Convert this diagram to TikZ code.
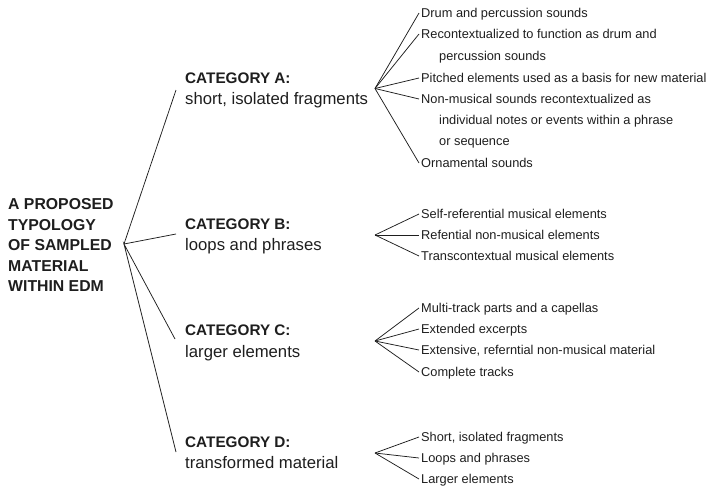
\documentclass[tikz,border=0pt]{standalone}
\usepackage{fontspec}
\setmainfont{Liberation Sans}
\definecolor{ink}{HTML}{1E1E1E}
\tikzset{
  conn/.style={draw=ink, line width=0.75pt},
  roottxt/.style={anchor=west, inner sep=0pt, align=left, text=ink, font=\fontsize{15.8}{20.5}\selectfont\bfseries},
  cathead/.style={anchor=west, inner sep=0pt, text=ink, text height=11pt, text depth=0pt, font=\fontsize{15.3}{18}\selectfont\bfseries},
  catdesc/.style={anchor=west, inner sep=0pt, text=ink, text height=12pt, text depth=0pt, font=\fontsize{16.7}{20}\selectfont},
  item/.style={anchor=west, inner xsep=2pt, inner ysep=0pt, text=ink, text height=9.2pt, text depth=0pt, font=\fontsize{12.8}{15}\selectfont},
  cont/.style={item, inner xsep=0pt},
}
\begin{document}
\begin{tikzpicture}[x=1pt, y=-1pt]
\useasboundingbox (0,0) rectangle (707,488);
% root
\node[roottxt] (root) at (8,245) {A PROPOSED\\TYPOLOGY\\OF SAMPLED\\MATERIAL\\WITHIN EDM};
\coordinate (rj) at (124,244);
% categories
\node[cathead] (ca) at (185,78) {CATEGORY A:};
\node[catdesc] (cad) at (185,98) {short, isolated fragments};
\node[cathead] (cb) at (185,224) {CATEGORY B:};
\node[catdesc] (cbd) at (185,244) {loops and phrases};
\node[cathead] (cc) at (185,330) {CATEGORY C:};
\node[catdesc] (ccd) at (185,351) {larger elements};
\node[cathead] (cd) at (185,442) {CATEGORY D:};
\node[catdesc] (cdd) at (185,462) {transformed material};
\coordinate (ea) at (176,90);
\coordinate (eb) at (176,234);
\coordinate (ec) at (175,339);
\coordinate (ed) at (176,452);
\draw[conn] (ea) -- (rj) -- (eb);
\draw[conn] (ec) -- (rj) -- (ed);
% sub junctions
\coordinate (ja) at (375,88.5);
\coordinate (jb) at (375,235);
\coordinate (jc) at (375,341);
\coordinate (jd) at (375,453);
% A items
\node[item] (a1) at (419,13) {Drum and percussion sounds};
\node[item] (a2) at (419,34) {Recontextualized to function as drum and};
\node[cont] (a2b) at (439,56) {percussion sounds};
\node[item] (a3) at (419,78) {Pitched elements used as a basis for new material};
\node[item] (a4) at (419,99) {Non-musical sounds recontextualized as};
\node[cont] (a4b) at (439,120) {individual notes or events within a phrase};
\node[cont] (a4c) at (439,141) {or sequence};
\node[item] (a5) at (419,163) {Ornamental sounds};
\foreach \n in {a1,a2,a3,a4,a5} \draw[conn] (ja) -- (\n.west);
% B items
\node[item] (b1) at (419,214) {Self-referential musical elements};
\node[item] (b2) at (419,235) {Refential non-musical elements};
\node[item] (b3) at (419,256) {Transcontextual musical elements};
\foreach \n in {b1,b2,b3} \draw[conn] (jb) -- (\n.west);
% C items
\node[item] (c1) at (419,308) {Multi-track parts and a capellas};
\node[item] (c2) at (419,329) {Extended excerpts};
\node[item] (c3) at (419,350) {Extensive, referntial non-musical material};
\node[item] (c4) at (419,372) {Complete tracks};
\foreach \n in {c1,c2,c3,c4} \draw[conn] (jc) -- (\n.west);
% D items
\node[item] (d1) at (419,437) {Short, isolated fragments};
\node[item] (d2) at (419,458) {Loops and phrases};
\node[item] (d3) at (419,479) {Larger elements};
\foreach \n in {d1,d2,d3} \draw[conn] (jd) -- (\n.west);
\end{tikzpicture}
\end{document}
